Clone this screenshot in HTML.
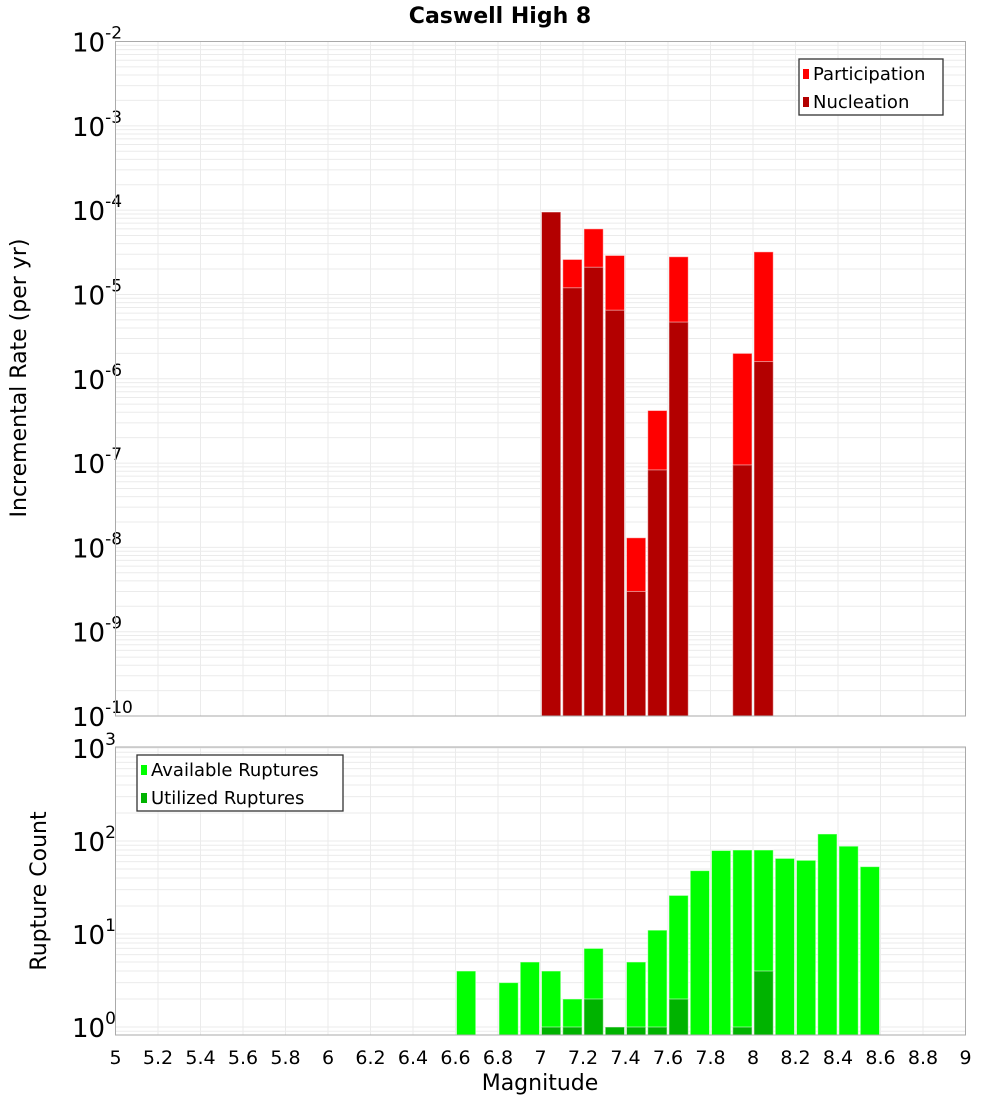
<!DOCTYPE html>
<html><head><meta charset="utf-8"><style>
body{margin:0;background:#fff;width:1000px;height:1100px;overflow:hidden}
svg{font-family:"DejaVu Sans","Liberation Sans",sans-serif}
</style></head><body>
<svg id="c" width="1000" height="1100" xmlns="http://www.w3.org/2000/svg">
<text x="500" y="23" text-anchor="middle" font-size="22" font-weight="bold">Caswell High 8</text>
<text transform="translate(26,378) rotate(-90)" text-anchor="middle" font-size="22">Incremental Rate (per yr)</text>
<text transform="translate(46,891) rotate(-90)" text-anchor="middle" font-size="22">Rupture Count</text>
<text x="540" y="1090" text-anchor="middle" font-size="22">Magnitude</text>
<g id="top"></g><g id="bot"></g>
</svg>
<script>
const binCenters=[7.05,7.15,7.25,7.35,7.45,7.55,7.65,7.95,8.05];
const participation=[9.5e-5,2.6e-5,6e-5,2.9e-5,1.3e-8,4.2e-7,2.8e-5,2e-6,3.2e-5];
const nucleation=[9.5e-5,1.2e-5,2.1e-5,6.5e-6,3e-9,8.3e-8,4.7e-6,9.5e-8,1.6e-6];
const countBins=[6.65,6.85,6.95,7.05,7.15,7.25,7.35,7.45,7.55,7.65,7.75,7.85,7.95,8.05,8.15,8.25,8.35,8.45,8.55];
const available=[4,3,5,4,2,7,1,5,11,26,48,79,80,80,65,62,119,88,53];
const utilized=[0,0,0,1,1,2,1,1,1,2,0,0,1,4,0,0,0,0,0];
const xTicks=[5,5.2,5.4,5.6,5.8,6,6.2,6.4,6.6,6.8,7,7.2,7.4,7.6,7.8,8,8.2,8.4,8.6,8.8,9];
const topExps=[-2,-3,-4,-5,-6,-7,-8,-9,-10];
const botExps=[3,2,1,0];

const NS="http://www.w3.org/2000/svg";
const L=115.5,R=965.5;
const X=v=>L+(v-5)/4*(R-L);
function el(p,t,a){const e=document.createElementNS(NS,t);for(const k in a)e.setAttribute(k,a[k]);p.appendChild(e);return e;}
function panel(g,top,bot,yfn,lmin,lmax,exps,name){
  el(g,'rect',{x:L,y:top,width:R-L,height:bot-top,fill:'#fff'});
  for(let d=Math.floor(lmin);d<=lmax;d++)for(let m=1;m<10;m++){const v=d+Math.log10(m);if(v<lmin||v>lmax)continue;const y=yfn(Math.pow(10,v));
    const ln=el(g,'line',{x1:L,x2:R,y1:y,y2:y,stroke:'#ebebeb','stroke-width':1});}
  xTicks.forEach(t=>{const ln=el(g,'line',{x1:X(t),x2:X(t),y1:top,y2:bot,stroke:'#ebebeb'});});
  exps.forEach(e=>{const y=yfn(Math.pow(10,e));const t=el(g,'text',{x:72,y:y+10,'font-size':26});
    
    t.textContent='10';const s=el(t,'tspan',{dy:-13,'font-size':17});s.textContent=e;});
}
function frame(g,top,bot){const r=el(g,'rect',{x:L,y:top,width:R-L,height:bot-top,fill:'none',stroke:'#aaa'});}
function bar(g,c,v,yfn,bot,fill,name){const x0=X(c-0.05)+1,x1=X(c+0.05)-1,y=yfn(v);
  const r=el(g,'rect',{x:x0,y:y,width:x1-x0,height:bot-y,fill:fill,stroke:'rgba(255,255,255,0.5)','stroke-width':1});
  }
function legend(g,x,y,w,items){const r=el(g,'rect',{x:x,y:y,width:w,height:56,fill:'#fff',stroke:'#333','stroke-width':1.3});
  
  items.forEach((it,i)=>{const yy=y+10+i*28;el(g,'rect',{x:x+4,y:yy,width:6,height:10,fill:it[1]});
    const t=el(g,'text',{x:x+14,y:yy+11,'font-size':18});t.textContent=it[0];});}

// top
const gt=document.getElementById('top');const T0=41.5,T1=716;
const yT=v=>T0+(-2-Math.log10(v))/8*(T1-T0);
panel(gt,T0,T1,yT,-10,-2,topExps,'top');
binCenters.forEach((c,i)=>bar(gt,c,participation[i],yT,T1,'#ff0000','participation-bar'));
binCenters.forEach((c,i)=>bar(gt,c,nucleation[i],yT,T1,'#b30000','nucleation-bar'));
frame(gt,T0,T1);
legend(gt,799,59,144,[['Participation','#ff0000'],['Nucleation','#b30000']]);

// bottom
const gb=document.getElementById('bot');const B0=747,B1=1035;const Y0=1027,DEC=93;
const yB=v=>Y0-Math.log10(v)*DEC;
const lminB=-(B1-Y0)/DEC,lmaxB=(Y0-B0)/DEC;
panel(gb,B0,B1,yB,lminB,lmaxB,botExps,'bottom');
countBins.forEach((c,i)=>{if(available[i]>0)bar(gb,c,available[i],yB,B1,'#00ff00','available-bar');});
countBins.forEach((c,i)=>{if(utilized[i]>0)bar(gb,c,utilized[i],yB,B1,'#00b300','utilized-bar');});
frame(gb,B0,B1);
legend(gb,137,755,206,[['Available Ruptures','#00ff00'],['Utilized Ruptures','#00b300']]);

xTicks.forEach(t=>{const tx=el(gb,'text',{x:X(t),y:1064,'text-anchor':'middle','font-size':19});
  tx.textContent=String(t);});
</script>
</body></html>
